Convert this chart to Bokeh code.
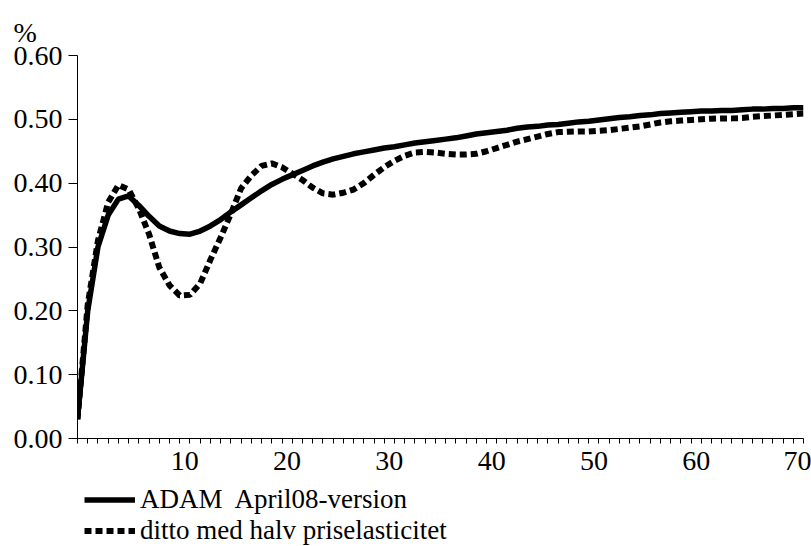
from bokeh.plotting import figure
from bokeh.layouts import column
from bokeh.models import FixedTicker, NumeralTickFormatter, Legend, LegendItem, Range1d
from bokeh.embed import file_html
from bokeh.resources import INLINE

# ---- data ----
period = list(range(72))

adam_april08 = [0.030, 0.200, 0.300, 0.350, 0.375, 0.380, 0.365, 0.348, 0.333, 0.325,
                0.321, 0.320, 0.325, 0.333, 0.343, 0.355, 0.366, 0.377, 0.388, 0.398,
                0.406, 0.413, 0.420, 0.427, 0.433, 0.438, 0.442, 0.446, 0.449, 0.452,
                0.455, 0.457, 0.460, 0.463, 0.465, 0.467, 0.469, 0.471, 0.474, 0.477,
                0.479, 0.481, 0.483, 0.486, 0.488, 0.489, 0.491, 0.492, 0.494, 0.496,
                0.497, 0.499, 0.501, 0.503, 0.504, 0.506, 0.507, 0.509, 0.510, 0.511,
                0.512, 0.513, 0.513, 0.514, 0.514, 0.515, 0.516, 0.516, 0.517, 0.517,
                0.518, 0.518]

halv_priselasticitet = [0.030, 0.210, 0.310, 0.370, 0.397, 0.390, 0.360, 0.320, 0.268, 0.240,
                        0.224, 0.225, 0.243, 0.280, 0.315, 0.352, 0.392, 0.412, 0.427, 0.431,
                        0.425, 0.415, 0.405, 0.393, 0.384, 0.382, 0.385, 0.390, 0.400, 0.413,
                        0.425, 0.435, 0.443, 0.448, 0.449, 0.448, 0.446, 0.445, 0.445, 0.446,
                        0.450, 0.455, 0.460, 0.465, 0.469, 0.473, 0.477, 0.480, 0.4805, 0.481,
                        0.481, 0.482, 0.483, 0.485, 0.487, 0.489, 0.492, 0.495, 0.497, 0.498,
                        0.499, 0.500, 0.501, 0.5015, 0.5015, 0.502, 0.504, 0.505, 0.506, 0.507,
                        0.508, 0.509]

x_tick_labels = ["10", "20", "30", "40", "50", "60", "70"]
y_ticks = [0.0, 0.1, 0.2, 0.3, 0.4, 0.5, 0.6]
series_names = ["ADAM  April08-version", "ditto med halv priselasticitet"]
unit_label = "%"

FONT = "Liberation Serif"
SOLID = dict(line_color="black", line_width=5.5)
DASHED = dict(line_color="black", line_width=6, line_dash="7 4")

W = 811

# ---- main chart ----
p = figure(width=W, height=479, output_backend="svg", toolbar_location=None,
           x_range=Range1d(0, 71), y_range=Range1d(0, 0.6),
           min_border_left=77, min_border_right=8, min_border_top=55, min_border_bottom=41,
           title=unit_label)
p.outline_line_color = None
p.xgrid.visible = False
p.ygrid.visible = False

p.line(period, adam_april08, **SOLID)
p.line(period, halv_priselasticitet, **DASHED)

# unit label "%" above the y axis
p.title.align = "left"
p.title.offset = -64
p.title.standoff = 15
p.title.text_font = FONT
p.title.text_font_size = "28px"
p.title.text_font_style = "normal"
p.title.text_color = "black"

# x axis: minor ticks at each period boundary, labels centred in the period
label_pos = [int(t) + 0.5 for t in x_tick_labels]
p.xaxis.ticker = FixedTicker(ticks=label_pos, minor_ticks=period)
p.xaxis.major_label_overrides = {pos: lab for pos, lab in zip(label_pos, x_tick_labels)}
p.xaxis.major_tick_out = 0
p.xaxis.major_tick_in = 0
p.xaxis.minor_tick_out = 5
p.xaxis.minor_tick_in = 0
p.xaxis.major_label_standoff = 8
p.xaxis.axis_line_color = "black"
p.xaxis.minor_tick_line_color = "black"

p.yaxis.ticker = FixedTicker(ticks=y_ticks, minor_ticks=[])
p.yaxis.formatter = NumeralTickFormatter(format="0.00")
p.yaxis.major_tick_out = 9
p.yaxis.major_tick_in = 0
p.yaxis.major_label_standoff = 6
p.yaxis.axis_line_color = "black"
p.yaxis.major_tick_line_color = "black"

for ax in (p.xaxis, p.yaxis):
    ax.major_label_text_font = FONT
    ax.major_label_text_font_size = "28px"
    ax.major_label_text_color = "black"

# ---- legend strip below the chart (no axes) ----
lg = figure(width=W, height=546 - 479, output_backend="svg", toolbar_location=None,
            x_range=Range1d(0, 1), y_range=Range1d(0, 1),
            min_border_left=77, min_border_right=8, min_border_top=0, min_border_bottom=0,
            x_axis_type=None, y_axis_type=None)
lg.outline_line_color = None
lg.grid.visible = False
# key renderers: styled like the series, their points lie outside the strip's ranges
k1 = lg.line([2, 3], [2, 2], **SOLID)
k2 = lg.line([2, 3], [2, 2], **DASHED)
legend = Legend(items=[LegendItem(label=series_names[0], renderers=[k1]),
                       LegendItem(label=series_names[1], renderers=[k2])],
                location=(7, 0), orientation="vertical",
                padding=0, margin=0, spacing=0, label_height=25, glyph_height=25,
                glyph_width=51, label_standoff=5,
                label_text_font=FONT, label_text_font_size="27px", label_text_color="black",
                border_line_color=None, background_fill_alpha=0)
lg.add_layout(legend, "center")

layout = column(p, lg, spacing=0)
open("out.html", "w").write(file_html(layout, INLINE))
